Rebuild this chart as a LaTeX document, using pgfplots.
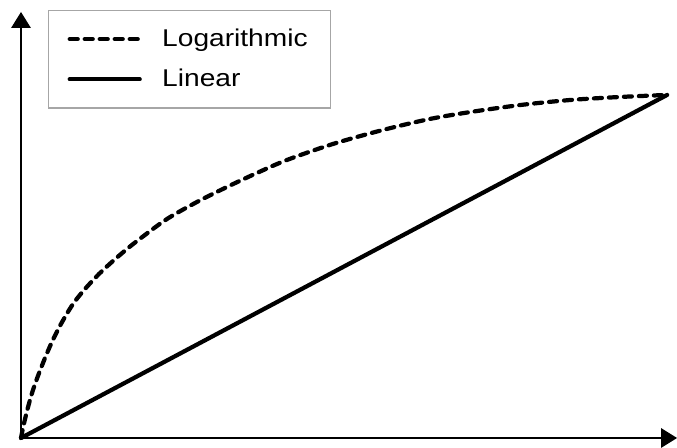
\documentclass[border=0pt]{standalone}
\usepackage{pgfplots}
\pgfplotsset{compat=1.18}
\usepackage{fontspec}
\setmainfont{Liberation Sans}
\usetikzlibrary{arrows.meta}

% Logarithmic growth curve, sampled by hand
\pgfplotstableread{
x   y
0   0
2   10
6   27
12  48
20  70
30  94
40  114
52  134
64  149
78  164
92  177
106 189
120 200
146 219
176 236
206 251
236 265
266 278
312 294
362 308
409 319
450 326
500 333
550 338
600 341
646 343
}\logdata

\pgfplotstableread{
x   y
0   0
646 343
}\lindata

\newcommand{\leglabel}[1]{\scalebox{1.16}[1]{\fontsize{13.8pt}{16pt}\selectfont #1}}

\begin{document}
\begin{tikzpicture}
\useasboundingbox (-0.42cm,-0.2cm) rectangle (13.12cm,8.76cm);
\begin{axis}[
  x=0.02cm, y=0.02cm,
  xmin=0, xmax=656, ymin=0, ymax=426,
  axis lines=left,
  axis line style={line width=1.6pt, -{Triangle[length=0.32cm, width=0.38cm]}},
  xtick=\empty, ytick=\empty,
  clip=false,
  legend style={
    at={(axis cs:27,428)}, anchor=north west,
    draw=gray!70, line width=0.7pt,
    inner xsep=0.38cm, inner ysep=0.3cm,
    row sep=0.26cm,
    cells={anchor=west},
    font=\fontsize{13.8pt}{16pt}\selectfont,
  },
  legend image code/.code={
    \draw[#1] (0cm,0cm) -- (1.4cm,0cm);
    \path[draw=none] (0cm,0cm) -- (1.78cm,0cm);
  },
]
\addplot[black, line width=2.4pt, line cap=round, dash pattern=on 0.16cm off 0.14cm, smooth] table[x=x,y=y] {\logdata};
\addlegendentry{\leglabel{Logarithmic}}
\addplot[black, line width=2.4pt, line cap=round] table[x=x,y=y] {\lindata};
\addlegendentry{\leglabel{Linear}}
\end{axis}
\end{tikzpicture}
\end{document}
